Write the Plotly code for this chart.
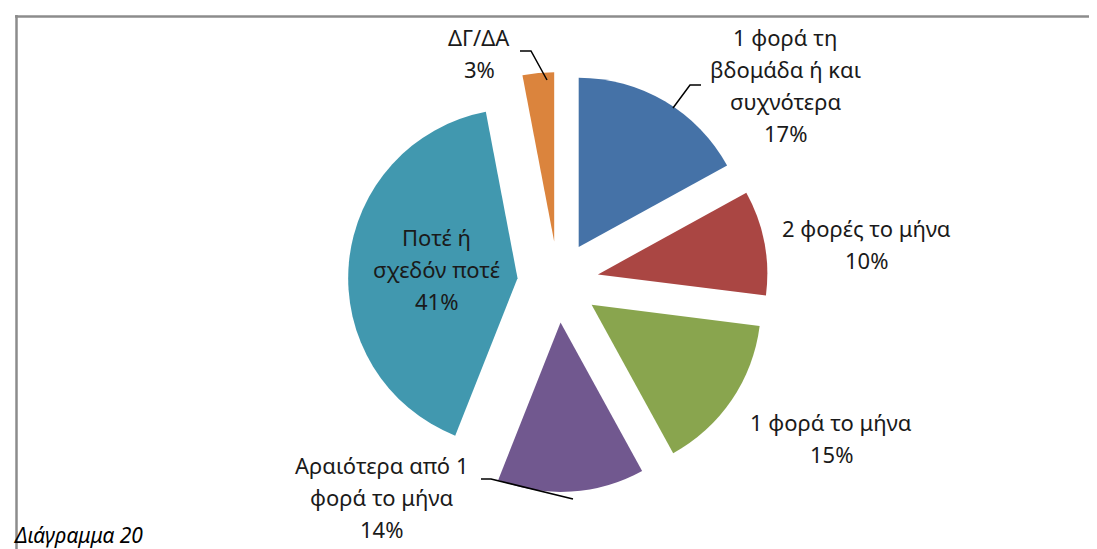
import plotly.graph_objects as go

# data
labels = [
    '1 φορά τη<br>βδομάδα ή και<br>συχνότερα',
    '2 φορές το μήνα',
    '1 φορά το μήνα',
    'Αραιότερα από 1<br>φορά το μήνα',
    'Ποτέ ή<br>σχεδόν ποτέ',
    'ΔΓ/ΔΑ',
]
values = [17, 10, 15, 14, 41, 3]
colors = ['#4572A7', '#AA4643', '#89A54E', '#71588F', '#4198AF', '#DB843D']

W, H = 1097, 549
FONT = 'Noto Sans'


def px(x):
    return x / W


def py(y):
    return 1 - y / H


# pie centre and half-size of its box, in pixels
CX, CY, HALF = 550, 274, 210

fig = go.Figure(go.Pie(
    labels=labels,
    values=values,
    sort=False,
    direction='clockwise',
    rotation=0,
    pull=[0.24] * len(values),
    marker=dict(colors=colors, line=dict(color='white', width=0)),
    textinfo='none',
    hoverinfo='label+percent',
    showlegend=False,
    domain=dict(x=[px(CX - 330), px(CX + 330)], y=[py(CY + HALF), py(CY - HALF)]),
))

# label placement (centre x, first-line y) per slice, Excel-style
label_pos = [(777, 37), (858, 228), (823, 422), (373, 465), (428, 237), (471, 37)]
line_gap = 32
y_fix = -8  # annotation boxes sit a bit low

annotations = []
for lab, val, (cx, cy) in zip(labels, values, label_pos):
    lines = lab.split('<br>') + [f'{val}%']
    for i, t in enumerate(lines):
        annotations.append(dict(
            x=px(cx), y=py(cy + i * line_gap + y_fix), xref='paper', yref='paper',
            text=t, showarrow=False, xanchor='center', yanchor='middle',
            font=dict(family=FONT, size=22, color='#1a1a1a'),
        ))

annotations.append(dict(
    x=px(4), y=py(535 + y_fix), xref='paper', yref='paper', text='<i>Διάγραμμα 20</i>',
    showarrow=False, xanchor='left', yanchor='middle',
    font=dict(family=FONT, size=21, color='black'),
))

# leader lines
leaders = [
    'M 512 43 L 523 43 L 539 72',
    'M 693 77 L 682 77 L 665 100',
    'M 473 471 L 483 471 L 565 491',
]
shapes = []
for p in leaders:
    pts = p.split(' L ')
    segs = []
    for k, s in enumerate(pts):
        x, y = s.replace('M ', '').split()
        segs.append(('M ' if k == 0 else 'L ') + f'{px(float(x))} {py(float(y))}')
    shapes.append(dict(type='path', xref='paper', yref='paper', path=' '.join(segs),
                       line=dict(color='black', width=1.5)))

# frame
shapes.append(dict(type='line', xref='paper', yref='paper', x0=px(7), x1=1, y0=py(8.5), y1=py(8.5),
                   line=dict(color='#8c8c8c', width=2.5)))
shapes.append(dict(type='line', xref='paper', yref='paper', x0=px(8.5), x1=px(8.5), y0=py(7), y1=0,
                   line=dict(color='#8c8c8c', width=2.5)))

fig.update_layout(
    width=W,
    height=H,
    margin=dict(l=0, r=0, t=0, b=0),
    paper_bgcolor='white',
    plot_bgcolor='white',
    annotations=annotations,
    shapes=shapes,
)
fig.write_html('out.html')
